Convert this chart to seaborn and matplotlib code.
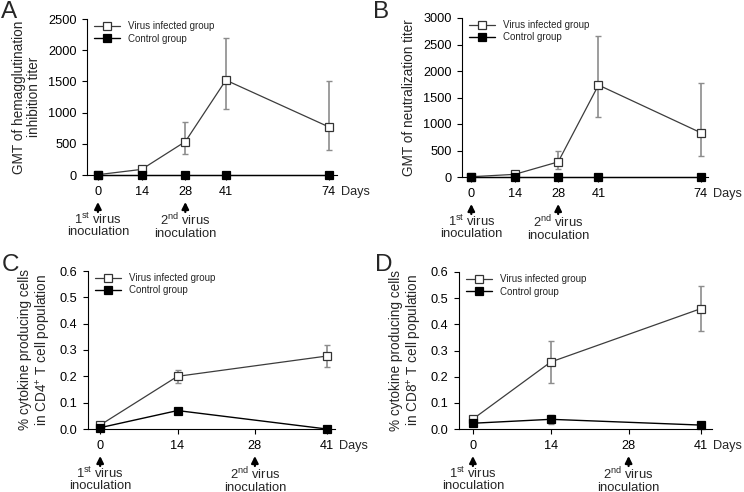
import pandas as pd
import matplotlib
matplotlib.use("Agg")
import matplotlib.pyplot as plt
import seaborn as sns
from matplotlib.ticker import FormatStrFormatter
from matplotlib.transforms import offset_copy

# -----------------------------
# General style
# -----------------------------
sns.set_style("ticks")
plt.rcParams["font.family"] = ["Liberation Sans", "DejaVu Sans"]
plt.rcParams["mathtext.fontset"] = "custom"
plt.rcParams["mathtext.rm"] = "Liberation Sans"

# -----------------------------
# Data
# -----------------------------
days_ab = [0, 14, 28, 41, 74]
ticks_ab = [0, 14, 28, 41, 74]

# A: hemagglutination inhibition titer (GMT)
hi_virus = [5, 90, 535, 1520, 770]
hi_virus_lo = [5, 75, 340, 1055, 395]
hi_virus_hi = [5, 105, 850, 2190, 1500]
hi_control = [0, 0, 0, 0, 0]

# B: neutralization titer (GMT)
nt_virus = [5, 50, 285, 1735, 835]
nt_virus_lo = [5, 40, 160, 1135, 400]
nt_virus_hi = [5, 60, 495, 2660, 1765]
nt_control = [0, 0, 0, 0, 0]

days_cd = [0, 14, 41]
ticks_cd = [0, 14, 28, 41]

# C: CD4+ cytokine producing cells (%)
cd4_virus = [0.015, 0.200, 0.277]
cd4_virus_err = [0.005, 0.025, 0.041]
cd4_control = [0.005, 0.070, 0.000]
cd4_control_err = [0.002, 0.010, 0.000]

# D: CD8+ cytokine producing cells (%)
cd8_virus = [0.038, 0.256, 0.460]
cd8_virus_err = [0.008, 0.082, 0.086]
cd8_control = [0.022, 0.037, 0.015]
cd8_control_err = [0.004, 0.018, 0.003]

inoculation_days = [0, 28]
inoculation_labels = ["1$^{\\mathregular{st}}$ virus\ninoculation",
                      "2$^{\\mathregular{nd}}$ virus\ninoculation"]

W, H = 744, 492
fig = plt.figure(figsize=(W / 100, H / 100), dpi=100)


def px_axes(left, top, right, bottom):
    return fig.add_axes([left / W, 1 - bottom / H, (right - left) / W, (bottom - top) / H])


def draw_panel(ax, days, virus, v_lo, v_hi, control, c_lo, c_hi,
               ticks, xlim, ylim, ystep, ylabel, fmt=None):
    # error bars first, under the markers
    ax.errorbar(days, virus, yerr=[[v - l for v, l in zip(virus, v_lo)],
                                   [h - v for v, h in zip(virus, v_hi)]],
                fmt="none", ecolor="#8c8c8c", elinewidth=1.2, capsize=2.5,
                capthick=1.0, zorder=2, clip_on=False)
    ax.errorbar(days, control, yerr=[[v - l for v, l in zip(control, c_lo)],
                                     [h - v for v, h in zip(control, c_hi)]],
                fmt="none", ecolor="#8c8c8c", elinewidth=1.2, capsize=2.5,
                capthick=1.0, zorder=2, clip_on=False)

    df_v = pd.DataFrame({"day": days, "value": virus})
    df_c = pd.DataFrame({"day": days, "value": control})
    sns.lineplot(data=df_v, x="day", y="value", ax=ax, errorbar=None,
                 color="#3c3c3c", lw=0.9, marker="s", markersize=5.5,
                 markerfacecolor="white", markeredgecolor="#333333",
                 markeredgewidth=0.9, label="Virus infected group",
                 zorder=4, clip_on=False)
    sns.lineplot(data=df_c, x="day", y="value", ax=ax, errorbar=None,
                 color="black", lw=1.0, marker="s", markersize=5.5,
                 markerfacecolor="black", markeredgecolor="black",
                 markeredgewidth=0.9, label="Control group",
                 zorder=5, clip_on=False)

    ax.set_xlim(*xlim)
    ax.set_ylim(*ylim)
    ax.set_xticks(ticks)
    ax.set_yticks([ylim[0] + i * ystep for i in range(int(round((ylim[1] - ylim[0]) / ystep)) + 1)])
    if fmt:
        ax.yaxis.set_major_formatter(FormatStrFormatter(fmt))
    ax.set_xlabel("")
    ax.set_ylabel(ylabel, fontsize=9.8, linespacing=1.12, labelpad=5)

    sns.despine(ax=ax)
    for s in ["left", "bottom"]:
        ax.spines[s].set_linewidth(0.8)
        ax.spines[s].set_color("black")
    ax.tick_params(axis="x", direction="out", length=3.5, width=0.8, pad=4.5,
                   labelsize=9.2, colors="black")
    ax.tick_params(axis="y", direction="out", length=3.5, width=0.8, pad=4,
                   labelsize=9.2, colors="black")

    ax.legend(loc="upper left", bbox_to_anchor=(0.0, 1.03), frameon=False,
              fontsize=7.0, handlelength=2.7, handletextpad=0.8,
              labelspacing=0.25, borderaxespad=0.3)

    # "Days" after the last tick label
    ax.annotate("Days", xy=(ticks[-1], 0), xycoords=ax.get_xaxis_transform(),
                xytext=(8.5, -8), textcoords="offset points", ha="left", va="top",
                fontsize=9.2)

    # inoculation arrows below the axis
    base = ax.get_xaxis_transform()
    tip = offset_copy(base, fig=fig, y=-27, units="dots")
    tail = offset_copy(base, fig=fig, y=-37, units="dots")
    txt = offset_copy(base, fig=fig, y=-37, units="dots")
    for d, lab in zip(inoculation_days, inoculation_labels):
        ax.annotate("", xy=(d, 0), xycoords=tip, xytext=(d, 0), textcoords=tail,
                    arrowprops=dict(arrowstyle="-|>,head_length=0.4,head_width=0.2",
                                    color="black", lw=1.6, shrinkA=0, shrinkB=0,
                                    mutation_scale=10))
        ax.text(d, 0, lab, transform=txt, ha="center", va="top", fontsize=9.4,
                linespacing=0.88, multialignment="center")


# -----------------------------
# Panels
# -----------------------------
ax_a = px_axes(87, 19, 337, 175)
draw_panel(ax_a, days_ab, hi_virus, hi_virus_lo, hi_virus_hi,
           hi_control, hi_control, hi_control, ticks_ab,
           (-3.5, 76.6), (0, 2500), 500,
           "GMT of hemagglutination\ninhibition titer")

ax_b = px_axes(462, 18, 708, 177)
draw_panel(ax_b, days_ab, nt_virus, nt_virus_lo, nt_virus_hi,
           nt_control, nt_control, nt_control, ticks_ab,
           (-3.0, 76.3), (0, 3000), 500,
           "GMT of neutralization titer")

ax_c = px_axes(88, 271, 335, 429)
draw_panel(ax_c, days_cd, cd4_virus,
           [v - e for v, e in zip(cd4_virus, cd4_virus_err)],
           [v + e for v, e in zip(cd4_virus, cd4_virus_err)],
           cd4_control,
           [v - e for v, e in zip(cd4_control, cd4_control_err)],
           [v + e for v, e in zip(cd4_control, cd4_control_err)],
           ticks_cd, (-2.2, 42.5), (0, 0.6), 0.1,
           "% cytokine producing cells\nin CD4$^{\\mathregular{+}}$ T cell population", fmt="%.1f")

ax_d = px_axes(459, 272, 712, 429)
draw_panel(ax_d, days_cd, cd8_virus,
           [v - e for v, e in zip(cd8_virus, cd8_virus_err)],
           [v + e for v, e in zip(cd8_virus, cd8_virus_err)],
           cd8_control,
           [v - e for v, e in zip(cd8_control, cd8_control_err)],
           [v + e for v, e in zip(cd8_control, cd8_control_err)],
           ticks_cd, (-2.5, 43.0), (0, 0.6), 0.1,
           "% cytokine producing cells\nin CD8$^{\\mathregular{+}}$ T cell population", fmt="%.1f")

# panel letters
for letter, x, y in [("A", 1, 1), ("B", 373, 1), ("C", 2, 254), ("D", 375, 254)]:
    fig.text(x / W, 1 - y / H, letter, fontsize=17.5, ha="left", va="top")

plt.savefig("out.png", dpi=100)
plt.close()
